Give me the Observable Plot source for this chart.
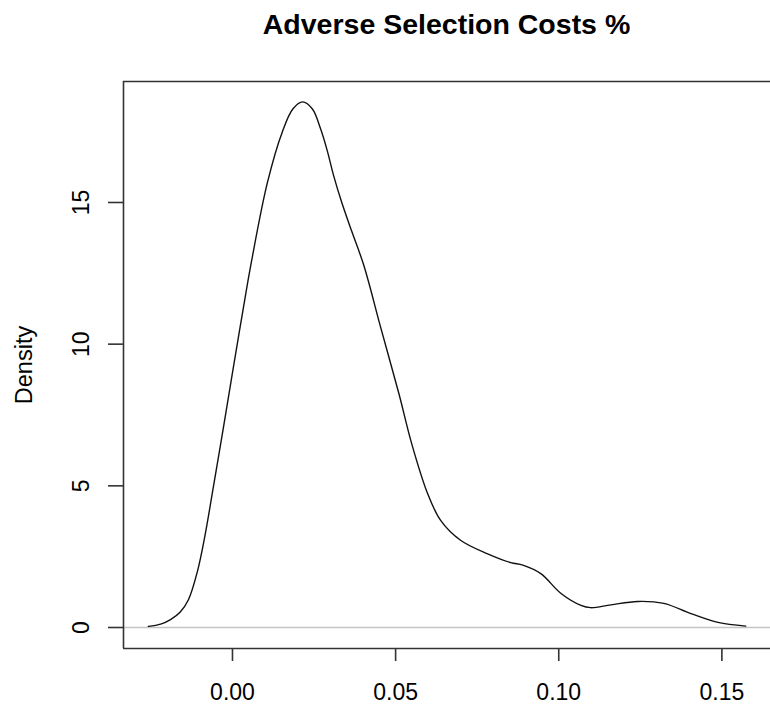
<!DOCTYPE html>
<html>
<head>
<meta charset="utf-8">
<script src="https://cdn.jsdelivr.net/npm/d3@7"></script>
<script src="https://cdn.jsdelivr.net/npm/@observablehq/plot@0.6"></script>
<style>
  html, body { margin: 0; padding: 0; background: #fff; }
  #title {
    box-sizing: border-box;
    width: 770px; height: 60px;
    padding-top: 10px; padding-left: 123px;
    font: bold 28.5px "Liberation Sans", Arial, sans-serif;
    line-height: 28.5px;
    text-align: center; color: #000;
  }
</style>
</head>
<body>
<div id="title"></div>
<div id="chart"></div>
<script>
const title = "Adverse Selection Costs %";
const yLabel = "Density";
const xValues = [-0.0258, -0.022, -0.019, -0.016, -0.0135, -0.0107, -0.0085, -0.0058, -0.0025, 0.0003, 0.0030,
  0.0058, 0.0107, 0.0153, 0.0185, 0.0215, 0.0245, 0.0270, 0.0290, 0.0310, 0.0335, 0.0365, 0.0402,
  0.0454, 0.0510, 0.0549, 0.0598, 0.0638, 0.0700, 0.0782, 0.0853, 0.0890, 0.0945,
  0.1007, 0.1068, 0.1098, 0.1160, 0.1242, 0.1322, 0.1405, 0.1488, 0.1573];
const densityValues = [0.04, 0.12, 0.28, 0.55, 0.98, 2.0, 3.2, 5.0, 7.25, 9.2, 11.05,
  12.9, 15.7, 17.5, 18.3, 18.55, 18.3, 17.6, 16.85, 15.95, 15.0, 14.0, 12.8,
  10.6, 8.26, 6.5, 4.73, 3.78, 3.07, 2.6, 2.29, 2.2, 1.9,
  1.2, 0.78, 0.7, 0.8, 0.92, 0.85, 0.49, 0.18, 0.05];
const xTicks = [0.00, 0.05, 0.10, 0.15];
const yTicks = [0, 5, 10, 15];

document.getElementById("title").textContent = title;

const data = xValues.map((x, i) => ({x, y: densityValues[i]}));
const xDomain = [-0.0334, 0.1649];
const yDomain = [-0.741, 19.27];
const font = "'Liberation Sans', Arial, sans-serif";

const chart = Plot.plot({
  width: 770,
  height: 647,
  marginTop: 21,
  marginBottom: 59,
  marginLeft: 123,
  marginRight: 0,
  style: {fontFamily: font, background: "#fff", color: "#000"},
  x: {domain: xDomain, axis: null},
  y: {domain: yDomain, axis: null},
  marks: [
    Plot.ruleY([0], {stroke: "#c4c4c4", strokeWidth: 1.3}),
    Plot.line(data, {x: "x", y: "y", curve: "catmull-rom", stroke: "#111", strokeWidth: 1.4}),
    Plot.ruleX([xDomain[0]], {stroke: "#333", strokeWidth: 1.6}),
    Plot.ruleY([yDomain[0]], {stroke: "#333", strokeWidth: 1.6}),
    Plot.ruleY([yDomain[1]], {stroke: "#333", strokeWidth: 1.6}),
    Plot.axisX(xTicks, {anchor: "bottom", tickFormat: d3.format(".2f"), tickSize: 13, tickPadding: 22,
      fontSize: 23, stroke: "#333", strokeWidth: 1.6, label: null, fill: "#000"}),
    Plot.axisY(yTicks, {anchor: "left", tickSize: 15, tickFormat: () => "", stroke: "#333", strokeWidth: 1.6, label: null}),
    Plot.text(yTicks, {y: d => d, text: d => String(d), frameAnchor: "left", dx: -42, rotate: -90,
      textAnchor: "middle", lineAnchor: "middle", fontSize: 23, fill: "#000"}),
    Plot.text([yLabel], {frameAnchor: "left", dx: -99, rotate: -90, textAnchor: "middle",
      lineAnchor: "middle", fontSize: 23.5, fill: "#000"})
  ]
});
document.getElementById("chart").appendChild(chart);
</script>
</body>
</html>
